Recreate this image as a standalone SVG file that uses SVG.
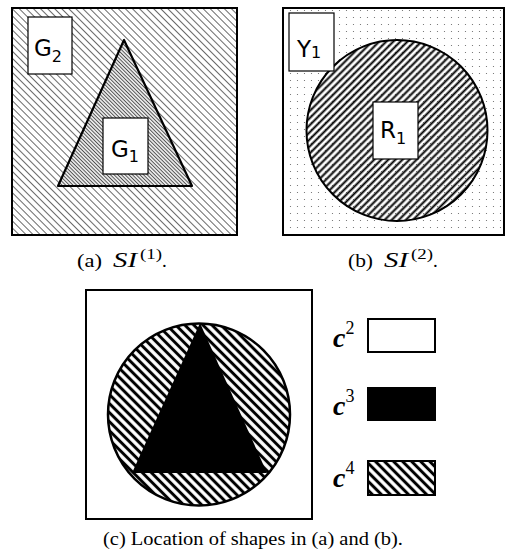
<svg xmlns="http://www.w3.org/2000/svg" width="507" height="554" viewBox="0 0 507 554">
<style>
.frame{fill:none;stroke:#000;stroke-width:2}
.lbl{fill:#fff;stroke:#000;stroke-width:1.2}
.sans{font-family:"DejaVu Sans","Liberation Sans",sans-serif;fill:#000}
.serif{font-family:"Liberation Serif","DejaVu Serif",serif;fill:#000}
.bi{font-family:"Liberation Serif",serif;font-weight:bold;font-style:italic;fill:#000}
</style>
<defs>
<pattern id="hatchA" patternUnits="userSpaceOnUse" width="10" height="5" patternTransform="rotate(45)">
<line x1="0" y1="2.5" x2="10" y2="2.5" stroke="#444" stroke-width="0.8"/>
</pattern>
<pattern id="hatchAfine" patternUnits="userSpaceOnUse" width="10" height="2.6" patternTransform="rotate(45)">
<rect width="10" height="2.6" fill="#e8e8e8"/>
<line x1="0" y1="1.3" x2="10" y2="1.3" stroke="#333" stroke-width="0.8"/>
</pattern>
<pattern id="dots" patternUnits="userSpaceOnUse" width="7" height="7">
<circle cx="3.5" cy="3.5" r="0.6" fill="#666"/>
</pattern>
<pattern id="hatchB" patternUnits="userSpaceOnUse" width="10" height="5" patternTransform="rotate(-45)">
<line x1="0" y1="2.5" x2="10" y2="2.5" stroke="#000" stroke-width="2"/>
</pattern>
<pattern id="hatchC" patternUnits="userSpaceOnUse" width="10" height="6.4" patternTransform="rotate(45)">
<line x1="0" y1="3.2" x2="10" y2="3.2" stroke="#000" stroke-width="3"/>
</pattern>
</defs>

<g id="panel-a">
<rect x="12" y="8" width="225" height="227" fill="url(#hatchA)"/>
<polygon points="124,40 58,186 192,186" fill="url(#hatchAfine)" stroke="#000" stroke-width="2.2" stroke-linejoin="round"/>
<rect x="12" y="8" width="225" height="227" class="frame"/>
<g id="G2">
<rect x="28" y="17" width="44" height="57" class="lbl"/>
<text class="sans" x="34" y="56" font-size="23">G<tspan font-size="16" dy="6">2</tspan></text>
</g>
<g id="G1">
<rect x="103" y="118" width="45" height="56" class="lbl"/>
<text class="sans" x="111" y="157" font-size="23">G<tspan font-size="16" dy="5">1</tspan></text>
</g>
</g>

<g id="panel-b">
<rect x="283" y="8" width="221" height="227" fill="url(#dots)"/>
<circle cx="397" cy="130.5" r="90.5" fill="url(#hatchB)" stroke="#000" stroke-width="2"/>
<rect x="283" y="8" width="221" height="227" class="frame"/>
<g id="Y1">
<rect x="289" y="13" width="45" height="58" class="lbl"/>
<text class="sans" x="297" y="57" font-size="23">Y<tspan font-size="16" dy="1">1</tspan></text>
</g>
<g id="R1">
<rect x="373" y="102" width="45" height="57" class="lbl"/>
<text class="sans" x="380" y="138" font-size="23">R<tspan font-size="16" dy="6">1</tspan></text>
</g>
</g>

<g id="caption-a">
<text class="serif" x="77" y="267" font-size="19" textLength="25" lengthAdjust="spacingAndGlyphs">(a)</text>
<text class="serif" x="113" y="267" font-size="21" font-style="italic" textLength="24" lengthAdjust="spacingAndGlyphs">SI</text>
<text class="serif" x="140" y="259" font-size="14" textLength="22" lengthAdjust="spacingAndGlyphs">(1)</text>
<text class="serif" x="162" y="267" font-size="19">.</text>
</g>
<g id="caption-b">
<text class="serif" x="348" y="267" font-size="19" textLength="25" lengthAdjust="spacingAndGlyphs">(b)</text>
<text class="serif" x="384" y="267" font-size="21" font-style="italic" textLength="24" lengthAdjust="spacingAndGlyphs">SI</text>
<text class="serif" x="411" y="259" font-size="14" textLength="22" lengthAdjust="spacingAndGlyphs">(2)</text>
<text class="serif" x="433" y="267" font-size="19">.</text>
</g>

<g id="panel-c">
<rect x="86" y="290" width="226" height="229" class="frame"/>
<circle cx="199" cy="414.5" r="91" fill="url(#hatchC)" stroke="#000" stroke-width="2.5"/>
<polygon points="200,323 132,473 267,473" fill="#000"/>
</g>

<g id="legend">
<g id="c2">
<text class="bi" x="333" y="347" font-size="28">c<tspan class="serif" font-weight="normal" font-style="normal" font-size="18" dy="-13">2</tspan></text>
<rect x="368" y="319" width="67" height="33" fill="#fff" stroke="#000" stroke-width="2"/>
</g>
<g id="c3">
<text class="bi" x="333" y="415" font-size="28">c<tspan class="serif" font-weight="normal" font-style="normal" font-size="18" dy="-13">3</tspan></text>
<rect x="367" y="387" width="69" height="34" fill="#000"/>
</g>
<g id="c4">
<text class="bi" x="333" y="487" font-size="28">c<tspan class="serif" font-weight="normal" font-style="normal" font-size="18" dy="-13">4</tspan></text>
<rect x="368" y="461" width="67" height="34" fill="url(#hatchC)" stroke="#000" stroke-width="2"/>
</g>
</g>

<text class="serif" x="103" y="545" font-size="18" textLength="300" lengthAdjust="spacingAndGlyphs">(c) Location of shapes in (a) and (b).</text>
</svg>
